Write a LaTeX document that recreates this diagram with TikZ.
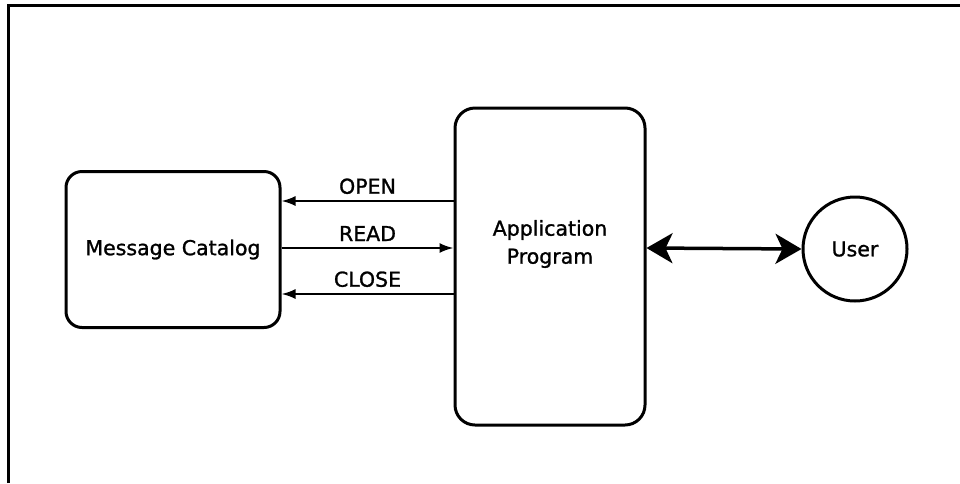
\documentclass[tikz,border=0pt]{standalone}
\usepackage{fontspec}
\setmainfont{DejaVu Sans}[BoldFont=DejaVu Sans,BoldFeatures={FakeBold=1.2}]
\usetikzlibrary{arrows.meta}
\begin{document}
\begin{tikzpicture}[x=1pt,y=-1pt,
  frame/.style={line width=3pt},
  box/.style={draw,line width=3pt,rounded corners=16pt,inner sep=0pt},
  lbl/.style={font=\fontsize{20.5}{24}\selectfont\bfseries,inner sep=0pt},
  call/.style={line width=2pt,-{Latex[length=14pt,width=10pt]}},
  bigarrow/.style={line width=3.5pt,{Stealth[length=26pt,width=30pt,inset=7pt]}-{Stealth[length=26pt,width=30pt,inset=7pt]}}]
\useasboundingbox (0,0) rectangle (960,483);
% page frame: top and left rules
\coordinate (fl) at (8,483);
\coordinate (fc) at (8,5);
\coordinate (fr) at (960,5);
\draw[frame] (fl) -- (fc) -- (fr);
% nodes
\node[box,minimum width=214pt,minimum height=156pt] (cat) at (173,249.5) {};
\node[lbl] at (cat.center) {Message Catalog};
\node[box,rounded corners=20pt,minimum width=190pt,minimum height=317pt] (app) at (550,266.5) {};
\node[lbl,align=center,font=\fontsize{20.5}{28}\selectfont\bfseries] at (550,244) {Application\\Program};
\node[circle,draw,line width=3pt,minimum size=104pt,inner sep=0pt] (user) at (855,249) {};
\node[lbl] at (user.center) {User};
% calls between program and catalog
\draw[call] (app.west |- 0,201) -- node[lbl,above=6pt] {OPEN} (cat.east |- 0,201);
\draw[call] (cat.east |- 0,248) -- node[lbl,above=6pt] {READ} (app.west |- 0,248);
\draw[call] (app.west |- 0,294) -- node[lbl,above=6pt] {CLOSE} (cat.east |- 0,294);
% program <-> user
\draw[bigarrow] (app.east |- 0,248) -- (user.west);
\end{tikzpicture}
\end{document}
